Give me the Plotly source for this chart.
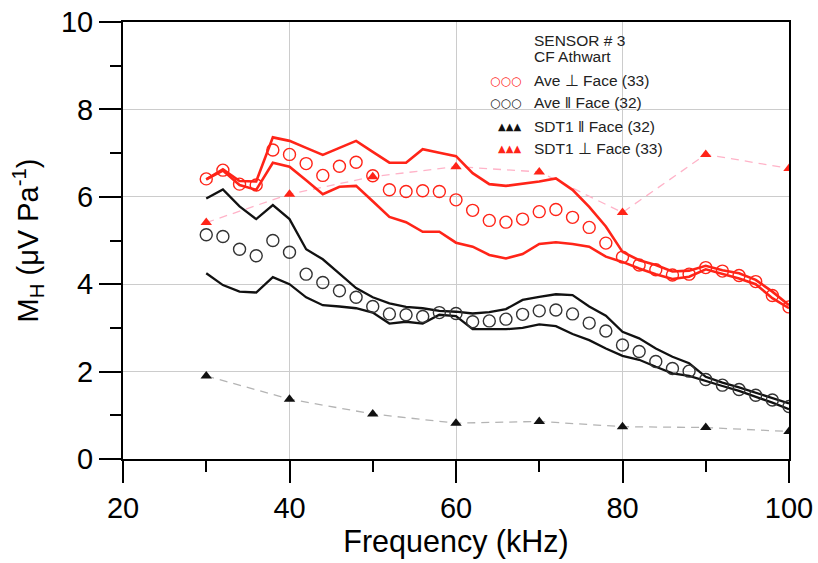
import plotly.graph_objects as go

# ---------------- data ----------------
freq = [30, 32, 34, 36, 38, 40, 42, 44, 46, 48, 50, 52, 54, 56, 58, 60, 62, 64,
        66, 68, 70, 72, 74, 76, 78, 80, 82, 84, 86, 88, 90, 92, 94, 96, 98, 100]

ave_perp = [6.41, 6.61, 6.29, 6.27, 7.07, 6.97, 6.76, 6.49, 6.70, 6.79, 6.48, 6.16,
            6.12, 6.14, 6.12, 5.93, 5.69, 5.46, 5.42, 5.49, 5.66, 5.71, 5.53, 5.30,
            4.94, 4.62, 4.44, 4.33, 4.21, 4.23, 4.38, 4.30, 4.20, 4.06, 3.74, 3.48]
perp_upper = [6.40, 6.63, 6.36, 6.35, 7.36, 7.28, 7.12, 6.96, 7.12, 7.28, 7.03, 6.78,
              6.78, 7.09, 7.01, 6.93, 6.54, 6.29, 6.25, 6.30, 6.35, 6.42, 6.16, 5.77,
              5.32, 4.74, 4.55, 4.44, 4.29, 4.31, 4.42, 4.32, 4.25, 4.10, 3.83, 3.52]
perp_lower = [6.40, 6.60, 6.27, 6.16, 6.78, 6.69, 6.38, 6.06, 6.23, 6.25, 5.90, 5.54,
              5.42, 5.20, 5.20, 4.95, 4.86, 4.67, 4.59, 4.69, 4.92, 4.96, 4.92, 4.86,
              4.63, 4.51, 4.36, 4.23, 4.12, 4.17, 4.34, 4.23, 4.13, 4.00, 3.68, 3.45]

ave_par = [5.13, 5.09, 4.80, 4.65, 5.00, 4.73, 4.23, 4.04, 3.85, 3.70, 3.49, 3.32,
           3.30, 3.26, 3.35, 3.33, 3.14, 3.16, 3.20, 3.31, 3.39, 3.41, 3.32, 3.11,
           2.93, 2.61, 2.46, 2.23, 2.07, 2.01, 1.82, 1.69, 1.59, 1.46, 1.35, 1.20]
par_upper = [5.96, 6.17, 5.78, 5.49, 5.81, 5.49, 4.80, 4.57, 4.24, 3.91, 3.70, 3.56,
             3.48, 3.45, 3.39, 3.37, 3.33, 3.36, 3.43, 3.64, 3.71, 3.77, 3.75, 3.49,
             3.28, 2.91, 2.76, 2.53, 2.34, 2.19, 1.88, 1.75, 1.64, 1.52, 1.40, 1.27]
par_lower = [4.25, 3.98, 3.83, 3.81, 4.16, 4.00, 3.70, 3.52, 3.49, 3.45, 3.35, 3.10,
             3.14, 3.10, 3.30, 3.27, 2.97, 2.97, 2.97, 3.00, 3.08, 3.04, 2.86, 2.72,
             2.53, 2.36, 2.27, 2.11, 1.96, 1.90, 1.78, 1.67, 1.56, 1.43, 1.29, 1.14]

sdt_freq = [30, 40, 50, 60, 70, 80, 90, 100]
sdt_perp = [5.41, 6.06, 6.46, 6.69, 6.57, 5.64, 6.97, 6.65]
sdt_par = [1.90, 1.37, 1.03, 0.82, 0.86, 0.74, 0.72, 0.63]

legend_title = ["SENSOR # 3", "CF Athwart"]
legend_labels = ["Ave \u22a5 Face (33)", "Ave \u2016 Face (32)",
                 "SDT1 \u2016 Face (32)", "SDT1 \u22a5 Face (33)"]

RED = "#ff2418"
BLACK = "#111111"
FONT = "Arial, Liberation Sans, sans-serif"

fig = go.Figure()

# dashed SDT1 lines
fig.add_trace(go.Scatter(x=sdt_freq, y=sdt_perp, mode="lines",
                         line=dict(color="#ffb3c8", width=1.3, dash="8px,6px")))
fig.add_trace(go.Scatter(x=sdt_freq, y=sdt_par, mode="lines",
                         line=dict(color="#b4b4b4", width=1.3, dash="8px,6px")))

# spread lines
for ys, c, w in [(perp_upper, RED, 2.6), (perp_lower, RED, 2.6),
                 (par_upper, BLACK, 2.3), (par_lower, BLACK, 2.3)]:
    fig.add_trace(go.Scatter(x=freq, y=ys, mode="lines", line=dict(color=c, width=w)))

# averages
fig.add_trace(go.Scatter(x=freq, y=ave_perp, mode="markers",
                         marker=dict(symbol="circle-open", size=12, color=RED,
                                     line=dict(width=1.4, color=RED))))
fig.add_trace(go.Scatter(x=freq, y=ave_par, mode="markers",
                         marker=dict(symbol="circle-open", size=12, color="#333333",
                                     line=dict(width=1.4, color="#333333"))))

# SDT1 triangles
fig.add_trace(go.Scatter(x=sdt_freq, y=sdt_perp, mode="markers",
                         marker=dict(symbol="triangle-up", size=10, color=RED)))
fig.add_trace(go.Scatter(x=sdt_freq, y=sdt_par, mode="markers",
                         marker=dict(symbol="triangle-up", size=10, color=BLACK)))

axis_common = dict(
    showline=True, linecolor="black", linewidth=2, mirror=True,
    ticks="outside", ticklen=22, tickwidth=2, tickcolor="black",
    showgrid=True, gridcolor="#cccccc", gridwidth=1, zeroline=False,
    tickfont=dict(size=29, color="black", family=FONT),
    automargin=False, ticklabeloverflow="allow",
)

fig.update_xaxes(range=[20, 100], tick0=20, dtick=20,
                 minor=dict(dtick=10, ticks="outside", ticklen=11, tickwidth=2,
                            tickcolor="black", showgrid=False),
                 title=dict(text="Frequency (kHz)", font=dict(size=30.5, color="black", family=FONT),
                            standoff=8),
                 **axis_common)
fig.update_yaxes(range=[0, 10], tick0=0, dtick=2,
                 minor=dict(dtick=1, ticks="outside", ticklen=11, tickwidth=2,
                            tickcolor="black", showgrid=False),
                 title=dict(text="M<sub>H</sub> (\u03bcV Pa<sup>-1</sup>)",
                            font=dict(size=29, color="black", family=FONT), standoff=14),
                 **axis_common)

# legend block built from annotations
ann = []
ann.append(dict(text=legend_title[0], x=0.614, y=0.957))
ann.append(dict(text=legend_title[1], x=0.614, y=0.921))
ys = [0.866, 0.815, 0.760, 0.711]
for lab, yy in zip(legend_labels, ys):
    ann.append(dict(text=lab, x=0.614, y=yy))
annotations = []
for a in ann:
    annotations.append(dict(xref="paper", yref="paper", x=a["x"], y=a["y"], text=a["text"],
                            showarrow=False, xanchor="left", yanchor="middle",
                            font=dict(size=15.5, color="#222222", family=FONT)))
sym = [("\u25cb\u25cb\u25cb", RED, 12), ("\u25cb\u25cb\u25cb", BLACK, 12),
       ("\u25b2\u25b2\u25b2", BLACK, 10), ("\u25b2\u25b2\u25b2", RED, 10)]
for (s, c, sz), yy in zip(sym, ys):
    annotations.append(dict(xref="paper", yref="paper", x=0.6, y=yy, text=s,
                            showarrow=False, xanchor="right", yanchor="middle",
                            font=dict(size=sz, color=c, family="DejaVu Sans")))

fig.update_layout(
    width=818, height=563,
    margin=dict(l=123, r=29, t=22, b=104),
    paper_bgcolor="white", plot_bgcolor="white",
    showlegend=False,
    annotations=annotations,
    font=dict(family=FONT, color="black"),
)

# remove the browser's default 8px body margin so the figure fills the window
fig.write_html("out.html",
               config={"displayModeBar": False},
               post_script="document.body.style.margin='0';document.body.style.overflow='hidden';")
